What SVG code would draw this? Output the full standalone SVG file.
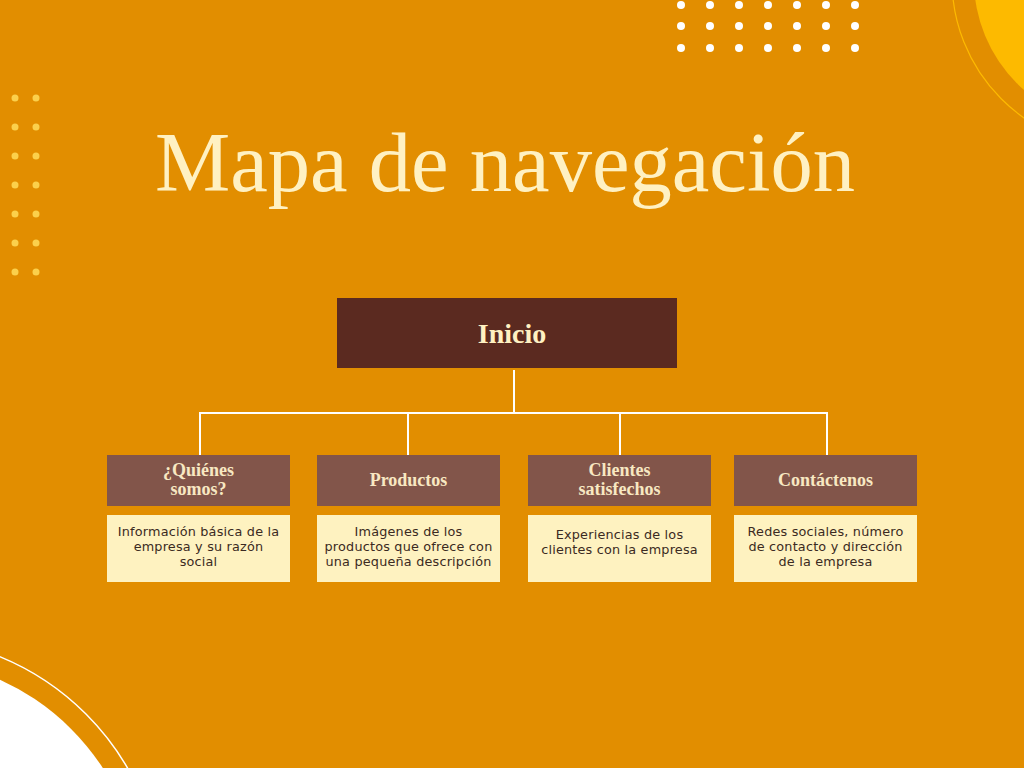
<svg xmlns="http://www.w3.org/2000/svg" width="1024" height="768" viewBox="0 0 1024 768">
<style>
.bg{fill:#E28E00}
.wdot{fill:#FFFFFF}
.ydot{fill:#FBD04C}
.title{font-family:"Liberation Serif","Times New Roman",serif;font-size:84px;fill:#FFF1C2}
.root{fill:#5B2A20}
.head{fill:#82554A}
.desc{fill:#FEF2C0}
.rootText{font-family:"Liberation Serif",serif;font-weight:bold;font-size:28px;fill:#FFF1C2;text-anchor:middle}
.headText{font-family:"Liberation Serif",serif;font-weight:bold;font-size:18px;fill:#F8E8C2;text-anchor:middle}
.descText{font-family:"DejaVu Sans","Noto Sans",sans-serif;font-size:12.8px;letter-spacing:0.2px;fill:#3B2A22;text-anchor:middle}
.conn{stroke:#FFFFFF;stroke-width:2;fill:none}
</style>
<rect class="bg" x="0" y="0" width="1024" height="768"/>
<!-- top-right decoration -->
<circle cx="1120" cy="-20" r="146" fill="#FDBA00"/>
<circle cx="1120" cy="-20" r="168" fill="none" stroke="#FDBA00" stroke-width="1.2"/>
<!-- bottom-left decoration -->
<circle cx="-100" cy="900" r="242" fill="#FFFFFF"/>
<circle cx="-100" cy="900" r="263" fill="none" stroke="#FFFFFF" stroke-width="1.5"/>
<!-- white dots -->
<g id="white-dots">
<circle class="wdot" cx="681" cy="5" r="4"/><circle class="wdot" cx="710" cy="5" r="4"/><circle class="wdot" cx="739" cy="5" r="4"/><circle class="wdot" cx="768" cy="5" r="4"/><circle class="wdot" cx="797" cy="5" r="4"/><circle class="wdot" cx="826" cy="5" r="4"/><circle class="wdot" cx="855" cy="5" r="4"/>
<circle class="wdot" cx="681" cy="26" r="4"/><circle class="wdot" cx="710" cy="26" r="4"/><circle class="wdot" cx="739" cy="26" r="4"/><circle class="wdot" cx="768" cy="26" r="4"/><circle class="wdot" cx="797" cy="26" r="4"/><circle class="wdot" cx="826" cy="26" r="4"/><circle class="wdot" cx="855" cy="26" r="4"/>
<circle class="wdot" cx="681" cy="48" r="4"/><circle class="wdot" cx="710" cy="48" r="4"/><circle class="wdot" cx="739" cy="48" r="4"/><circle class="wdot" cx="768" cy="48" r="4"/><circle class="wdot" cx="797" cy="48" r="4"/><circle class="wdot" cx="826" cy="48" r="4"/><circle class="wdot" cx="855" cy="48" r="4"/>
</g>
<g id="yellow-dots">
<circle class="ydot" cx="15" cy="98" r="3.5"/><circle class="ydot" cx="36" cy="98" r="3.5"/>
<circle class="ydot" cx="15" cy="127" r="3.5"/><circle class="ydot" cx="36" cy="127" r="3.5"/>
<circle class="ydot" cx="15" cy="156" r="3.5"/><circle class="ydot" cx="36" cy="156" r="3.5"/>
<circle class="ydot" cx="15" cy="185" r="3.5"/><circle class="ydot" cx="36" cy="185" r="3.5"/>
<circle class="ydot" cx="15" cy="214" r="3.5"/><circle class="ydot" cx="36" cy="214" r="3.5"/>
<circle class="ydot" cx="15" cy="243" r="3.5"/><circle class="ydot" cx="36" cy="243" r="3.5"/>
<circle class="ydot" cx="15" cy="272" r="3.5"/><circle class="ydot" cx="36" cy="272" r="3.5"/>
</g>
<text class="title" x="155" y="191" textLength="700" lengthAdjust="spacingAndGlyphs">Mapa de navegación</text>
<g id="connectors">
<path class="conn" d="M514 370 V413 M200 413 H827 M200 412 V455 M408 412 V455 M620 412 V455 M827 412 V455"/>
</g>
<g id="inicio">
<rect class="root" x="337" y="298" width="340" height="70"/>
<text class="rootText" x="512" y="343">Inicio</text>
</g>
<g id="quienes">
<rect class="head" x="107" y="455" width="183" height="51"/>
<text class="headText" x="198.5" y="476">¿Quiénes</text>
<text class="headText" x="198.5" y="495">somos?</text>
<rect class="desc" x="107" y="515" width="183" height="67"/>
<text class="descText" x="198.5" y="536">Información básica de la</text>
<text class="descText" x="198.5" y="551">empresa y su razón</text>
<text class="descText" x="198.5" y="566">social</text>
</g>
<g id="productos">
<rect class="head" x="317" y="455" width="183" height="51"/>
<text class="headText" x="408.5" y="486">Productos</text>
<rect class="desc" x="317" y="515" width="183" height="67"/>
<text class="descText" x="408.5" y="536">Imágenes de los</text>
<text class="descText" x="408.5" y="551">productos que ofrece con</text>
<text class="descText" x="408.5" y="566">una pequeña descripción</text>
</g>
<g id="clientes">
<rect class="head" x="528" y="455" width="183" height="51"/>
<text class="headText" x="619.5" y="476">Clientes</text>
<text class="headText" x="619.5" y="495">satisfechos</text>
<rect class="desc" x="528" y="515" width="183" height="67"/>
<text class="descText" x="619.5" y="539">Experiencias de los</text>
<text class="descText" x="619.5" y="554">clientes con la empresa</text>
</g>
<g id="contactenos">
<rect class="head" x="734" y="455" width="183" height="51"/>
<text class="headText" x="825.5" y="486">Contáctenos</text>
<rect class="desc" x="734" y="515" width="183" height="67"/>
<text class="descText" x="825.5" y="536">Redes sociales, número</text>
<text class="descText" x="825.5" y="551">de contacto y dirección</text>
<text class="descText" x="825.5" y="566">de la empresa</text>
</g>
</svg>
